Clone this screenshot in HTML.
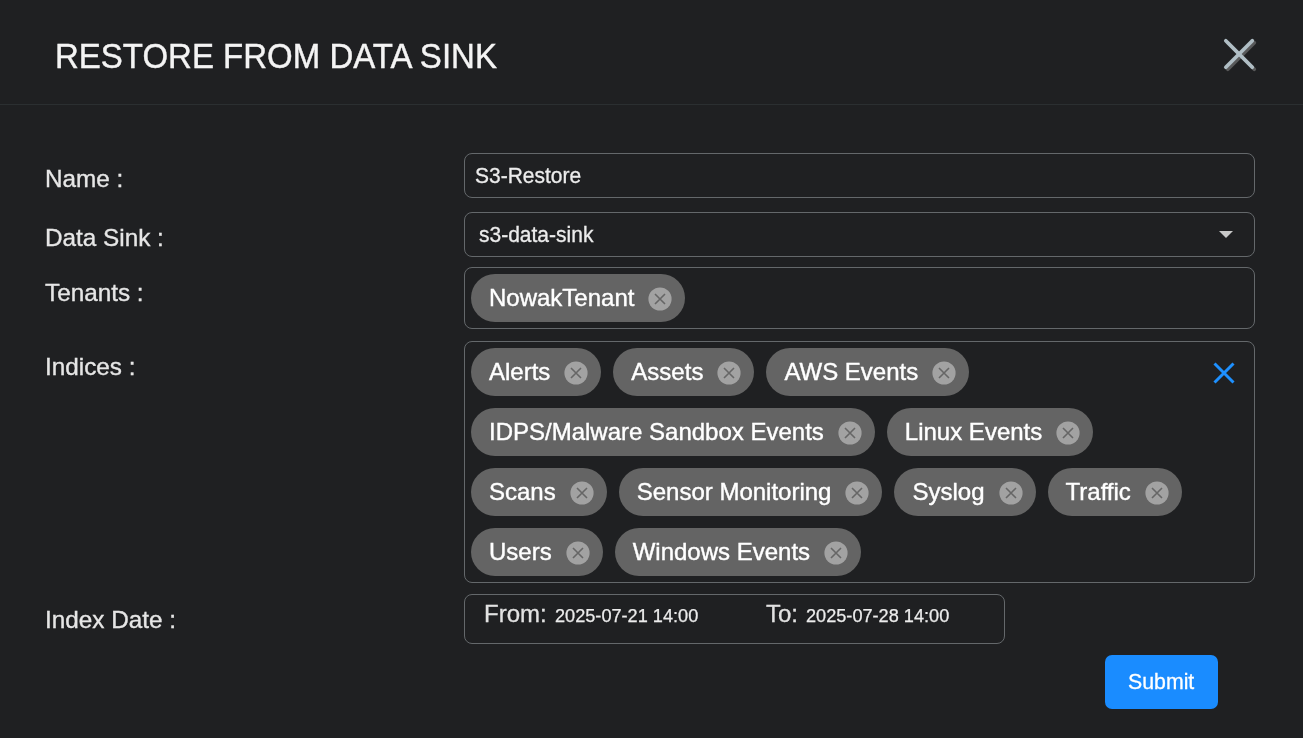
<!DOCTYPE html>
<html>
<head>
<meta charset="utf-8">
<style>
html,body{margin:0;padding:0;}
body{-webkit-font-smoothing:antialiased;width:1303px;height:738px;overflow:hidden;background:#1f2022;position:relative;font-family:"Liberation Sans",sans-serif;}
.abs{will-change:transform;position:absolute;white-space:pre;line-height:1;}
.title{-webkit-text-stroke:0.4px #f4f4f4;left:55px;top:39.5px;font-size:33px;transform:scaleY(1.045);transform-origin:0 28px;color:#f4f4f4;}
.sep{position:absolute;left:0;top:104px;width:1303px;height:1px;background:#2b2f31;}
.lbl{-webkit-text-stroke:0.35px #e6e6e6;will-change:transform;position:absolute;left:45px;font-size:24.3px;line-height:1;color:#e6e6e6;white-space:pre;}
.box{position:absolute;left:464px;width:789px;border:1px solid #64686b;border-radius:8px;box-sizing:content-box;}
.itext{-webkit-text-stroke:0.3px #ececec;will-change:transform;transform:scaleY(1.04);transform-origin:0 17.5px;position:absolute;font-size:21px;line-height:1;color:#ececec;white-space:pre;}
.chips{will-change:transform;position:absolute;left:471px;width:760px;display:flex;}
.chip{height:48px;border-radius:24px;background:#646464;display:flex;align-items:center;margin-right:12px;padding-left:18px;padding-right:13px;box-sizing:border-box;}
.chip span{-webkit-text-stroke:0.4px #fff;font-size:24px;color:#ffffff;line-height:48px;white-space:pre;}
.del{width:24px;height:24px;margin-left:14px;flex:none;position:relative;top:0.5px;}
.btn{position:absolute;left:1105px;top:655px;width:113px;height:54px;background:#1a8cff;border-radius:7px;}
</style>
</head>
<body>
<div class="abs title">RESTORE FROM DATA SINK</div>
<svg style="position:absolute;left:1215px;top:30px" width="50" height="50" viewBox="0 0 50 50">
  <g stroke="#58595a" stroke-width="3.7" stroke-linecap="round">
    <line x1="12.8" y1="12.8" x2="39.3" y2="39.3"/>
    <line x1="39.3" y1="12.8" x2="12.8" y2="39.3"/>
  </g>
  <g stroke="#b0bec5" stroke-width="3.7" stroke-linecap="round">
    <line x1="10.8" y1="10.8" x2="37.3" y2="37.3"/>
    <line x1="37.3" y1="10.8" x2="10.8" y2="37.3"/>
  </g>
</svg>
<div class="sep"></div>

<div class="lbl" style="top:167px">Name :</div>
<div class="lbl" style="top:226px">Data Sink :</div>
<div class="lbl" style="top:281px">Tenants :</div>
<div class="lbl" style="top:355px">Indices :</div>
<div class="lbl" style="top:608px">Index Date :</div>

<div class="box" style="top:153px;height:43px"></div>
<div class="itext" style="left:475px;top:165px">S3-Restore</div>

<div class="box" style="top:212px;height:43px"></div>
<div class="itext" style="left:478.5px;top:224px">s3-data-sink</div>
<svg style="position:absolute;left:1219px;top:231px" width="14" height="7" viewBox="0 0 14 7"><path d="M0 0H14L7 7Z" fill="#c8c8c8"/></svg>

<div class="box" style="top:267px;height:60px"></div>
<div class="chips" style="top:274px">
  <div class="chip"><span>NowakTenant</span><svg class="del" viewBox="0 0 24 24"><circle cx="12" cy="12" r="11.6" fill="#a2a2a2"/><path d="M7 7L17 17M17 7L7 17" stroke="#666" stroke-width="1.6"/></svg></div>
</div>

<div class="box" style="top:341px;height:240px"></div>
<div class="chips" style="top:348px">
  <div class="chip"><span>Alerts</span><svg class="del" viewBox="0 0 24 24"><circle cx="12" cy="12" r="11.6" fill="#a2a2a2"/><path d="M7 7L17 17M17 7L7 17" stroke="#666" stroke-width="1.6"/></svg></div>
  <div class="chip"><span>Assets</span><svg class="del" viewBox="0 0 24 24"><circle cx="12" cy="12" r="11.6" fill="#a2a2a2"/><path d="M7 7L17 17M17 7L7 17" stroke="#666" stroke-width="1.6"/></svg></div>
  <div class="chip"><span>AWS Events</span><svg class="del" viewBox="0 0 24 24"><circle cx="12" cy="12" r="11.6" fill="#a2a2a2"/><path d="M7 7L17 17M17 7L7 17" stroke="#666" stroke-width="1.6"/></svg></div>
</div>
<div class="chips" style="top:408px">
  <div class="chip"><span>IDPS/Malware Sandbox Events</span><svg class="del" viewBox="0 0 24 24"><circle cx="12" cy="12" r="11.6" fill="#a2a2a2"/><path d="M7 7L17 17M17 7L7 17" stroke="#666" stroke-width="1.6"/></svg></div>
  <div class="chip"><span>Linux Events</span><svg class="del" viewBox="0 0 24 24"><circle cx="12" cy="12" r="11.6" fill="#a2a2a2"/><path d="M7 7L17 17M17 7L7 17" stroke="#666" stroke-width="1.6"/></svg></div>
</div>
<div class="chips" style="top:468px">
  <div class="chip"><span>Scans</span><svg class="del" viewBox="0 0 24 24"><circle cx="12" cy="12" r="11.6" fill="#a2a2a2"/><path d="M7 7L17 17M17 7L7 17" stroke="#666" stroke-width="1.6"/></svg></div>
  <div class="chip"><span>Sensor Monitoring</span><svg class="del" viewBox="0 0 24 24"><circle cx="12" cy="12" r="11.6" fill="#a2a2a2"/><path d="M7 7L17 17M17 7L7 17" stroke="#666" stroke-width="1.6"/></svg></div>
  <div class="chip"><span>Syslog</span><svg class="del" viewBox="0 0 24 24"><circle cx="12" cy="12" r="11.6" fill="#a2a2a2"/><path d="M7 7L17 17M17 7L7 17" stroke="#666" stroke-width="1.6"/></svg></div>
  <div class="chip"><span>Traffic</span><svg class="del" viewBox="0 0 24 24"><circle cx="12" cy="12" r="11.6" fill="#a2a2a2"/><path d="M7 7L17 17M17 7L7 17" stroke="#666" stroke-width="1.6"/></svg></div>
</div>
<div class="chips" style="top:528px">
  <div class="chip"><span>Users</span><svg class="del" viewBox="0 0 24 24"><circle cx="12" cy="12" r="11.6" fill="#a2a2a2"/><path d="M7 7L17 17M17 7L7 17" stroke="#666" stroke-width="1.6"/></svg></div>
  <div class="chip"><span>Windows Events</span><svg class="del" viewBox="0 0 24 24"><circle cx="12" cy="12" r="11.6" fill="#a2a2a2"/><path d="M7 7L17 17M17 7L7 17" stroke="#666" stroke-width="1.6"/></svg></div>
</div>
<svg style="position:absolute;left:1212px;top:361px" width="24" height="24" viewBox="0 0 24 24"><path d="M2.5 2.5L21.5 21.5M21.5 2.5L2.5 21.5" stroke="#1e90ff" stroke-width="3"/></svg>

<div class="box" style="top:594px;width:539px;height:48px"></div>
<div class="abs" style="left:484px;top:602px;font-size:24px;color:#e2e2e2;-webkit-text-stroke:0.3px #e2e2e2">From:</div>
<div class="abs" style="left:555px;top:607px;font-size:18.15px;color:#ececec;-webkit-text-stroke:0.25px #ececec">2025-07-21 14:00</div>
<div class="abs" style="left:766px;top:602px;font-size:24px;color:#e2e2e2;-webkit-text-stroke:0.3px #e2e2e2">To:</div>
<div class="abs" style="left:806px;top:607px;font-size:18.15px;color:#ececec;-webkit-text-stroke:0.25px #ececec">2025-07-28 14:00</div>

<div class="btn"></div>
<div class="abs" style="left:1128px;top:672px;font-size:21.3px;color:#ffffff;-webkit-text-stroke:0.3px #fff">Submit</div>
</body>
</html>
